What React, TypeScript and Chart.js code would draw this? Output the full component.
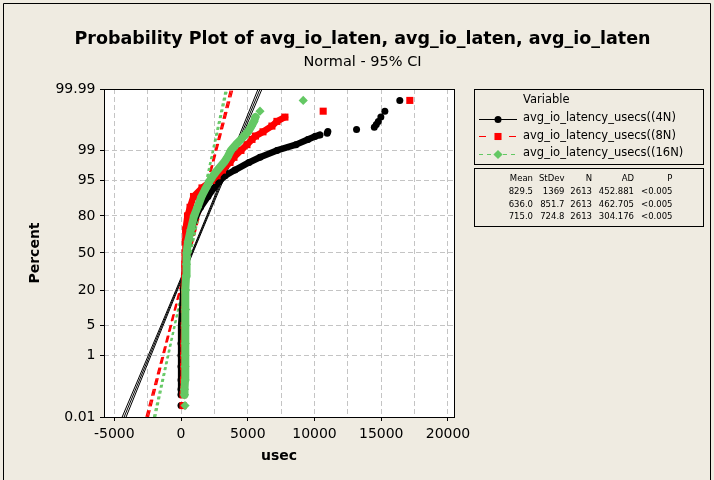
import React, { useEffect, useRef } from 'react';
import { Chart, registerables } from 'chart.js';

Chart.register(...registerables);

// ---------------- text ----------------
const chartTitle = 'Probability Plot of avg_io_laten, avg_io_laten, avg_io_laten';
const chartSubtitle = 'Normal - 95% CI';
const xAxisTitle = 'usec';
const yAxisTitle = 'Percent';
const legendTitle = 'Variable';
const seriesNames = ['avg_io_latency_usecs((4N)', 'avg_io_latency_usecs((8N)', 'avg_io_latency_usecs((16N)'];

// ---------------- axes ----------------
const xMin = -5770;
const xMax = 20450;
const xTickValues = [-5000, -2500, 0, 2500, 5000, 7500, 10000, 12500, 15000, 17500, 20000];
const xTickLabels = ['-5000', '', '0', '', '5000', '', '10000', '', '15000', '', '20000'];
const yTickPercents = [0.01, 1, 5, 20, 50, 80, 95, 99, 99.99];
const yTickLabels = ['0.01', '1', '5', '20', '50', '80', '95', '99', '99.99'];

// ---------------- statistics table ----------------
const statHeaders = ['Mean', 'StDev', 'N', 'AD', 'P'];
const means = [829.5, 636.0, 715.0];
const stdevs = [1369, 851.7, 724.8];
const counts = [2613, 2613, 2613];
const adValues = [452.881, 462.705, 304.176];
const pValues = ['<0.005', '<0.005', '<0.005'];

// ---------------- data (percent, usec) ----------------
// 4N
const pct4N = [0.065, 0.1, 0.2, 0.5, 1, 2, 5, 10, 20, 30, 40, 50, 60, 70, 80, 85, 90, 93, 95, 96, 97, 98, 98.5, 99, 99.3, 99.5, 99.59, 99.63];
const usec4N = [0, 0, 0, 0, 0, 0, 45, 90, 170, 250, 330, 435, 560, 750, 1120, 1460, 2020, 2470, 2920, 3300, 4040, 5090, 5915, 7185, 8610, 9505, 10030, 10405];
const pct4NTail = [0.027, 99.667, 99.706, 99.744, 99.782, 99.82, 99.858, 99.897, 99.935, 99.973];
const usec4NTail = [0, 10950, 11000, 13150, 14480, 14630, 14780, 14970, 15270, 16390];
// 8N
const pct8N = [0.065, 0.1, 0.2, 0.5, 1, 2, 5, 10, 20, 30, 40, 50, 60, 70, 80, 85, 90, 93, 95, 96, 97, 98, 98.5, 99, 99.3, 99.5, 99.6, 99.7, 99.8, 99.858, 99.897];
const usec8N = [150, 185, 185, 200, 210, 220, 235, 250, 265, 280, 290, 300, 315, 350, 485, 675, 935, 1570, 2300, 2700, 3105, 3670, 3965, 4490, 4940, 5315, 5575, 6140, 6810, 7185, 7785];
const pct8NTail = [0.027, 99.935, 99.973];
const usec8NTail = [150, 10650, 17140];
// 16N
const pct16N = [0.065, 0.1, 0.2, 0.5, 1, 2, 5, 10, 20, 30, 40, 50, 60, 70, 80, 85, 90, 93, 95, 96, 97, 98, 98.5, 99, 99.3, 99.5, 99.6, 99.7, 99.8, 99.858, 99.897];
const usec16N = [260, 260, 300, 300, 300, 315, 320, 340, 350, 375, 400, 430, 525, 730, 975, 1235, 1535, 1870, 2170, 2395, 2730, 3220, 3480, 3740, 4115, 4490, 4715, 5015, 5275, 5465, 5575];
const pct16NTail = [0.027, 99.935, 99.973];
const usec16NTail = [300, 5915, 9155];

// ---------------- styles ----------------
const FONT = '"DejaVu Sans", Verdana, sans-serif';
const BG = 'rgb(239,235,225)';
const colors = ['#000000', '#FF0000', '#64C864'];
const pointStyles = ['circle', 'rect', 'rectRot'];
const pointRadii = [3.5, 5, 4.6];
const bandWidths = [6.5, 6.5, 8];
const fitDashes = [[], [7, 4], [3, 3]];
const fitWidths = [1, 1.3, 1.3];

// inverse standard normal CDF (probability axis transform)
function normInv(p: number): number {
  const a = [-3.969683028665376e1, 2.209460984245205e2, -2.759285104469687e2, 1.38357751867269e2, -3.066479806614716e1, 2.506628277459239];
  const b = [-5.447609879822406e1, 1.615858368580409e2, -1.556989798598866e2, 6.680131188771972e1, -1.328068155288572e1];
  const c = [-7.784894002430293e-3, -3.223964580411365e-1, -2.400758277161838, -2.549732539343734, 4.374664141464968, 2.938163982698783];
  const d = [7.784695709041462e-3, 3.224671290700398e-1, 2.445134137142996, 3.754408661907416];
  const plow = 0.02425;
  if (p < plow) {
    const q = Math.sqrt(-2 * Math.log(p));
    return (((((c[0] * q + c[1]) * q + c[2]) * q + c[3]) * q + c[4]) * q + c[5]) / ((((d[0] * q + d[1]) * q + d[2]) * q + d[3]) * q + 1);
  }
  if (p <= 1 - plow) {
    const q = p - 0.5;
    const r = q * q;
    return ((((((a[0] * r + a[1]) * r + a[2]) * r + a[3]) * r + a[4]) * r + a[5]) * q) / (((((b[0] * r + b[1]) * r + b[2]) * r + b[3]) * r + b[4]) * r + 1);
  }
  const q = Math.sqrt(-2 * Math.log(1 - p));
  return -(((((c[0] * q + c[1]) * q + c[2]) * q + c[3]) * q + c[4]) * q + c[5]) / ((((d[0] * q + d[1]) * q + d[2]) * q + d[3]) * q + 1);
}
const toZ = (pct: number) => normInv(pct / 100);
const zMin = toZ(yTickPercents[0]);
const zMax = toZ(yTickPercents[yTickPercents.length - 1]);

const toPoints = (usec: number[], pct: number[]) => usec.map((x, k) => ({ x, y: toZ(pct[k]) }));

const bands = [
  toPoints(usec4N, pct4N),
  toPoints(usec8N, pct8N),
  toPoints(usec16N, pct16N),
];
const tails = [
  toPoints(usec4NTail, pct4NTail),
  toPoints(usec8NTail, pct8NTail),
  toPoints(usec16NTail, pct16NTail),
];

function buildDatasets() {
  const ds: any[] = [];
  for (let i = 0; i < 3; i++) {
    const col = colors[i];
    const common = {
      pointStyle: pointStyles[i],
      pointRadius: pointRadii[i],
      pointBackgroundColor: col,
      pointBorderColor: col,
      pointBorderWidth: 0,
      backgroundColor: col,
      borderColor: col,
      order: 2 - i,
    };
    ds.push({ ...common, label: seriesNames[i], data: bands[i], showLine: true, borderWidth: bandWidths[i], borderJoinStyle: 'round', borderCapStyle: 'round', tension: 0 });
    ds.push({ ...common, label: seriesNames[i] + ' tail', data: tails[i], showLine: false });
    // fitted line and 95% CI
    const m = means[i];
    const s = stdevs[i];
    const n = counts[i];
    const fit = [{ x: m + zMin * s, y: zMin }, { x: m + zMax * s, y: zMax }];
    const zs = yTickPercents.map(toZ);
    const half = (z: number) => 1.96 * s * Math.sqrt(1 / n + (z * z) / (2 * (n - 1)));
    const lo = zs.map((z) => ({ x: m + z * s - half(z), y: z }));
    const hi = zs.map((z) => ({ x: m + z * s + half(z), y: z }));
    [fit, lo, hi].forEach((d, k) => {
      ds.push({
        label: seriesNames[i] + ' fit' + k,
        data: d,
        showLine: true,
        pointRadius: 0,
        borderColor: col,
        borderWidth: fitWidths[i],
        borderDash: fitDashes[i],
        tension: 0,
        order: 10 + (2 - i),
      });
    });
  }
  return ds;
}

function drawMarker(ctx: CanvasRenderingContext2D, style: string, x: number, y: number, r: number) {
  ctx.beginPath();
  if (style === 'circle') {
    ctx.arc(x, y, r, 0, Math.PI * 2);
  } else if (style === 'rect') {
    const h = r * Math.SQRT1_2;
    ctx.rect(x - h, y - h, 2 * h, 2 * h);
  } else {
    ctx.moveTo(x - r, y);
    ctx.lineTo(x, y - r);
    ctx.lineTo(x + r, y);
    ctx.lineTo(x, y + r);
    ctx.closePath();
  }
  ctx.fill();
}

const decorPlugin = {
  id: 'decor',
  beforeDraw(chart: any) {
    const { ctx, chartArea: a, width, height } = chart;
    ctx.save();
    ctx.fillStyle = BG;
    ctx.fillRect(0, 0, width, height);
    ctx.fillStyle = '#FFFFFF';
    ctx.fillRect(a.left, a.top, a.right - a.left, a.bottom - a.top);
    ctx.restore();
  },
  afterDraw(chart: any) {
    const { ctx, chartArea: a } = chart;
    ctx.save();
    // plot frame
    ctx.strokeStyle = '#000';
    ctx.lineWidth = 1;
    ctx.setLineDash([]);
    ctx.strokeRect(Math.round(a.left) + 0.5, Math.round(a.top) + 0.5, Math.round(a.right - a.left), Math.round(a.bottom - a.top));
    // outer frame
    ctx.beginPath();
    ctx.moveTo(3.5, 480);
    ctx.lineTo(3.5, 3.5);
    ctx.lineTo(710.5, 3.5);
    ctx.lineTo(710.5, 480);
    ctx.stroke();

    // titles
    ctx.fillStyle = '#000';
    ctx.textAlign = 'center';
    ctx.textBaseline = 'alphabetic';
    ctx.font = 'bold 17.5px ' + FONT;
    ctx.fillText(chartTitle, 362.5, 43.5);
    ctx.font = '14.5px ' + FONT;
    ctx.fillText(chartSubtitle, 362.5, 65.5);

    // legend box
    ctx.strokeRect(474.5, 89.5, 229, 75);
    ctx.font = '11.5px ' + FONT;
    ctx.textAlign = 'left';
    ctx.textBaseline = 'middle';
    ctx.fillText(legendTitle, 523, 100);
    const rowY = [118.5, 136, 153.5];
    const legendDash = [[], [7, 23], [4, 4]];
    for (let i = 0; i < 3; i++) {
      const y = rowY[i];
      ctx.strokeStyle = colors[i];
      ctx.lineWidth = 1;
      ctx.setLineDash(legendDash[i]);
      ctx.beginPath();
      ctx.moveTo(479, Math.round(y) + 0.5);
      ctx.lineTo(517, Math.round(y) + 0.5);
      ctx.stroke();
      ctx.setLineDash([]);
      ctx.fillStyle = colors[i];
      drawMarker(ctx, pointStyles[i], 498, Math.round(y) + 0.5, pointRadii[i]);
      ctx.fillStyle = '#000';
      ctx.fillText(seriesNames[i], 523, y);
    }

    // stats box
    ctx.strokeStyle = '#000';
    ctx.strokeRect(474.5, 168.5, 229, 58);
    ctx.font = '8.5px ' + FONT;
    ctx.textAlign = 'right';
    const colX = [533, 564.5, 592, 634, 672.5];
    statHeaders.forEach((h, k) => ctx.fillText(h, colX[k], 178.5));
    const statRowY = [191.5, 204.3, 217];
    for (let i = 0; i < 3; i++) {
      const cells = [means[i].toFixed(1), stdevs[i].toPrecision(4), String(counts[i]), adValues[i].toFixed(3), pValues[i]];
      cells.forEach((c, k) => ctx.fillText(c, colX[k], statRowY[i]));
    }
    ctx.restore();
  },
};

export default function App() {
  const ref = useRef<HTMLCanvasElement>(null);
  useEffect(() => {
    if (!ref.current) return;
    const chart = new Chart(ref.current, {
      type: 'scatter',
      data: { datasets: buildDatasets() },
      options: {
        animation: false,
        responsive: false,
        maintainAspectRatio: false,
        devicePixelRatio: 1,
        layout: { padding: { left: 0, top: 89, right: 260, bottom: 0 } },
        plugins: { legend: { display: false }, tooltip: { enabled: false }, title: { display: false } },
        scales: {
          x: {
            type: 'linear',
            min: xMin,
            max: xMax,
            afterBuildTicks: (s: any) => {
              s.ticks = xTickValues.map((v) => ({ value: v }));
            },
            afterFit: (s: any) => {
              s.height = 63;
            },
            ticks: {
              autoSkip: false,
              maxRotation: 0,
              minRotation: 0,
              padding: 5,
              color: '#000',
              font: { family: FONT, size: 14 },
              callback: (v: any) => {
                const i = xTickValues.indexOf(Number(v));
                return i >= 0 ? xTickLabels[i] : '';
              },
            },
            grid: {
              color: '#C4C4C4',
              lineWidth: 1,
              tickLength: 4,
              tickWidth: 1,
              tickBorderDash: [],
              tickColor: (c: any) => (xTickLabels[c.index] ? '#000' : 'rgba(0,0,0,0)'),
            },
            border: { display: false, dash: [5, 3] },
            title: {
              display: true,
              text: xAxisTitle,
              color: '#000',
              font: { family: FONT, size: 14, weight: 'bold' },
              padding: { top: 0, bottom: 15.6 },
            },
          },
          y: {
            type: 'linear',
            min: zMin,
            max: zMax,
            afterBuildTicks: (s: any) => {
              s.ticks = yTickPercents.map((p) => ({ value: toZ(p) }));
            },
            afterFit: (s: any) => {
              s.width = 104;
            },
            ticks: {
              autoSkip: false,
              padding: 4.5,
              color: '#000',
              font: { family: FONT, size: 14 },
              callback: (_v: any, i: number) => yTickLabels[i],
            },
            grid: {
              color: '#C4C4C4',
              lineWidth: 1,
              tickLength: 4,
              tickWidth: 1,
              tickBorderDash: [],
              tickColor: '#000',
            },
            border: { display: false, dash: [5, 3] },
            title: {
              display: true,
              text: yAxisTitle,
              color: '#000',
              font: { family: FONT, size: 14, weight: 'bold' },
              padding: { top: 26.6, bottom: 0 },
            },
          },
        },
      },
      plugins: [decorPlugin],
    } as any);
    return () => chart.destroy();
  }, []);
  return (
    <div style={{ position: 'fixed', left: 0, top: 0, width: 714, height: 480, background: BG }}>
      <canvas ref={ref} width={714} height={480} style={{ display: 'block', width: 714, height: 480 }} />
    </div>
  );
}
